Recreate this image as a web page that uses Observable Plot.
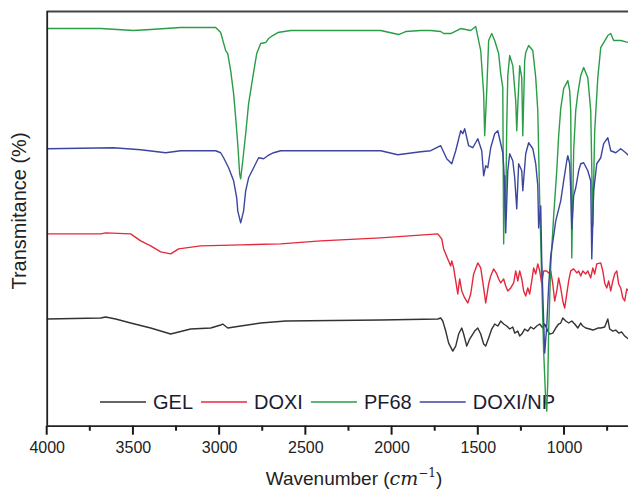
<!DOCTYPE html>
<html><head><meta charset="utf-8">
<script src="https://cdn.jsdelivr.net/npm/d3@7"></script>
<script src="https://cdn.jsdelivr.net/npm/@observablehq/plot@0.6"></script>
<style>
html,body{margin:0;padding:0;background:#fff;}
#chart{width:628px;height:491px;overflow:hidden;}
</style></head><body><div id="chart"></div>
<script>
const SERIES = ["GEL", "DOXI", "PF68", "DOXI/NP"];
const COLORS = ["#333333", "#e6283c", "#2a9d47", "#3c469e"];
const X_TICKS = [4000, 3500, 3000, 2500, 2000, 1500, 1000];
const X_MINOR = [3750, 3250, 2750, 2250, 1750, 1250, 750];
const X_LABEL = "Wavenumber (";
const X_UNIT = "cm";
const X_EXP = "\u22121";
const Y_LABEL = "Transmitance (%)";

// [wavenumber (cm^-1), transmittance (a.u., offset)]
const GEL = [[4000,107],[3690,108],[3661,109],[3603,107],[3516,103],[3400,98],[3284,92],[3168,97],[3052,98],[2994,101],[2982,102],[2953,98],[2878,100],[2762,103],[2617,105],[2066,106],[1735,107],[1718,108],[1706,105],[1689,95],[1672,83],[1648,75],[1631,80],[1614,92],[1596,98],[1585,92],[1567,80],[1550,87],[1532,92],[1521,95],[1503,98],[1486,92],[1469,82],[1457,80],[1440,88],[1422,97],[1405,102],[1387,100],[1370,105],[1353,102],[1335,100],[1318,97],[1300,99],[1289,93],[1271,95],[1260,90],[1248,92],[1231,97],[1213,95],[1196,99],[1179,97],[1161,100],[1144,102],[1126,98],[1115,102],[1097,95],[1086,92],[1068,93],[1051,98],[1034,102],[1022,103],[1010,108],[993,105],[976,103],[958,105],[941,102],[923,98],[906,103],[894,100],[877,98],[854,97],[836,96],[819,97],[807,98],[790,98],[767,99],[749,107],[738,97],[720,95],[703,96],[686,93],[668,94],[651,90],[628,87]];

const DOXI = [[4000,192],[3690,192],[3661,193],[3516,192],[3458,185],[3400,180],[3342,174],[3284,172],[3238,177],[3110,180],[2878,181],[2646,182],[2414,185],[2066,188],[1735,192],[1712,187],[1701,177],[1677,167],[1660,160],[1654,165],[1643,158],[1631,145],[1619,132],[1608,147],[1596,135],[1579,128],[1561,123],[1544,132],[1527,152],[1503,163],[1486,158],[1469,138],[1457,123],[1440,142],[1428,150],[1411,157],[1393,152],[1382,147],[1370,143],[1353,147],[1341,140],[1329,135],[1312,138],[1295,143],[1283,155],[1271,145],[1260,155],[1248,147],[1237,135],[1225,130],[1213,138],[1202,132],[1190,145],[1179,158],[1167,152],[1155,162],[1144,155],[1132,142],[1121,155],[1103,155],[1092,153],[1080,155],[1068,142],[1057,125],[1045,135],[1034,148],[1022,138],[1010,125],[999,118],[987,132],[976,145],[964,155],[947,157],[929,153],[918,155],[906,150],[894,155],[877,152],[865,155],[848,148],[836,158],[825,152],[813,162],[790,163],[778,155],[767,143],[755,138],[744,145],[732,135],[720,145],[709,152],[697,155],[686,142],[674,138],[662,128],[651,125],[639,137],[628,135]];

const PF68 = [[4000,397],[3690,397],[3499,395],[3400,396],[3226,398],[3023,398],[2994,393],[2965,375],[2953,372],[2936,355],[2919,332],[2907,308],[2895,282],[2884,252],[2878,247],[2866,265],[2849,292],[2832,322],[2808,348],[2785,372],[2762,382],[2733,383],[2716,387],[2692,390],[2663,393],[2588,395],[2530,395],[2066,395],[1962,391],[1921,394],[1834,395],[1776,395],[1718,394],[1701,392],[1660,392],[1602,397],[1544,395],[1515,399],[1486,375],[1469,332],[1463,290],[1451,335],[1440,385],[1422,392],[1405,385],[1382,372],[1370,352],[1358,338],[1353,182],[1347,250],[1341,215],[1335,300],[1329,350],[1318,370],[1300,360],[1283,325],[1277,295],[1271,320],[1260,360],[1248,348],[1242,290],[1231,365],[1225,373],[1208,380],[1184,375],[1167,348],[1155,315],[1144,225],[1132,145],[1121,75],[1109,25],[1103,15],[1097,45],[1092,95],[1080,160],[1063,210],[1045,255],[1034,290],[1022,317],[1005,337],[981,345],[970,335],[964,315],[958,168],[947,275],[935,315],[923,332],[906,350],[889,358],[865,348],[848,315],[836,200],[825,295],[807,348],[790,378],[773,383],[749,390],[732,392],[715,385],[674,385],[628,383]];

const DOXI_NP = [[4000,277],[3615,278],[3458,276],[3313,273],[3226,275],[3023,275],[2994,273],[2977,268],[2948,258],[2919,245],[2901,228],[2895,215],[2878,203],[2861,215],[2849,235],[2832,248],[2803,258],[2774,268],[2745,267],[2721,270],[2687,273],[2646,275],[2530,275],[2066,275],[1967,271],[1834,274],[1776,275],[1718,280],[1683,267],[1654,262],[1631,275],[1602,295],[1590,292],[1579,297],[1556,280],[1532,278],[1503,287],[1480,275],[1469,250],[1457,260],[1445,258],[1428,278],[1405,292],[1387,295],[1370,282],[1358,273],[1353,260],[1347,238],[1341,193],[1329,255],[1318,272],[1300,265],[1289,248],[1277,217],[1266,262],[1248,255],[1242,235],[1225,272],[1208,283],[1184,277],[1167,262],[1155,240],[1150,198],[1138,220],[1132,165],[1121,105],[1115,73],[1103,100],[1092,140],[1080,170],[1063,190],[1051,205],[1022,225],[1005,245],[987,265],[981,270],[970,262],[964,235],[958,197],[947,230],[935,238],[918,255],[906,262],[889,263],[865,255],[848,245],[842,167],[831,235],[813,262],[790,268],[773,282],[749,288],[732,275],[703,273],[674,277],[645,273],[628,270]];

const ALL = [GEL, DOXI, PF68, DOXI_NP];
const rows = [];
ALL.forEach((s, i) => s.forEach(([wn, t]) => rows.push({series: SERIES[i], wn, t})));

const FONT = "'Liberation Sans', Arial, Helvetica, sans-serif";
const INK = "#222";

const chart = Plot.plot({
  width: 628, height: 491,
  marginLeft: 46.7, marginRight: 0, marginTop: 11, marginBottom: 65.3,
  x: {domain: [4000, 629]},
  y: {domain: [0, 414], axis: null},
  color: {domain: SERIES, range: COLORS},
  style: {fontFamily: FONT, background: "transparent", color: INK},
  marks: [
    Plot.axisX(X_TICKS, {tickSize: 0, tickPadding: 15, tickFormat: d => String(d), fontSize: 16, fill: INK, label: null}),
    Plot.line(rows, {x: "wn", y: "t", z: "series", stroke: "series", strokeWidth: 1.4, strokeLinejoin: "round"}),
    Plot.ruleY([0], {stroke: INK, strokeWidth: 1.8}),
    Plot.ruleY([414], {stroke: "#444", strokeWidth: 2}),
    Plot.ruleX([4000], {stroke: INK, strokeWidth: 1.8})
  ]
});
document.getElementById("chart").appendChild(chart);

const svg = d3.select(chart);
const xs = chart.scale("x");
const y0 = chart.scale("y").apply(0);

// tick marks from the plot's x scale
const tg = svg.append("g").attr("fill", "#1a1a1a");
X_TICKS.forEach(v => {
  tg.append("rect").attr("x", xs.apply(v) - 1).attr("y", y0).attr("width", 2).attr("height", 9);
});
X_MINOR.forEach(v => {
  tg.append("rect").attr("x", xs.apply(v) - 1).attr("y", y0).attr("width", 2).attr("height", 5);
});

// legend (drawn beneath the spectra)
const lg = svg.insert("g", ":first-child")
  .attr("font-family", FONT).attr("font-size", 20).attr("fill", "#1c1c30")
  .attr("text-anchor", "start");
let lx = 100;
const ly = 402;
SERIES.forEach((name, i) => {
  lg.append("line").attr("x1", lx).attr("x2", lx + 46).attr("y1", ly).attr("y2", ly)
    .attr("stroke", COLORS[i]).attr("stroke-width", 1.6);
  const t = lg.append("text").attr("x", lx + 53).attr("y", ly + 7).attr("text-anchor", "start").text(name);
  lx = lx + 53 + t.node().getComputedTextLength() + 8;
});

// x axis title with italic unit and superscript
const xt = svg.append("text").attr("x", 354).attr("y", 485)
  .attr("text-anchor", "middle").attr("font-family", FONT).attr("font-size", 19).attr("fill", INK);
xt.append("tspan").text(X_LABEL);
xt.append("tspan").attr("font-family", "'DejaVu Serif', serif").attr("font-style", "italic").text(X_UNIT);
xt.append("tspan").attr("font-family", "'DejaVu Serif', serif").attr("font-size", 12).attr("dy", -8).text(X_EXP);
xt.append("tspan").attr("dy", 8).text(")");

// y axis title
svg.append("text").attr("transform", "translate(26,211) rotate(-90)")
  .attr("text-anchor", "middle").attr("font-family", FONT).attr("font-size", 20).attr("fill", INK)
  .text(Y_LABEL);
</script></body></html>
